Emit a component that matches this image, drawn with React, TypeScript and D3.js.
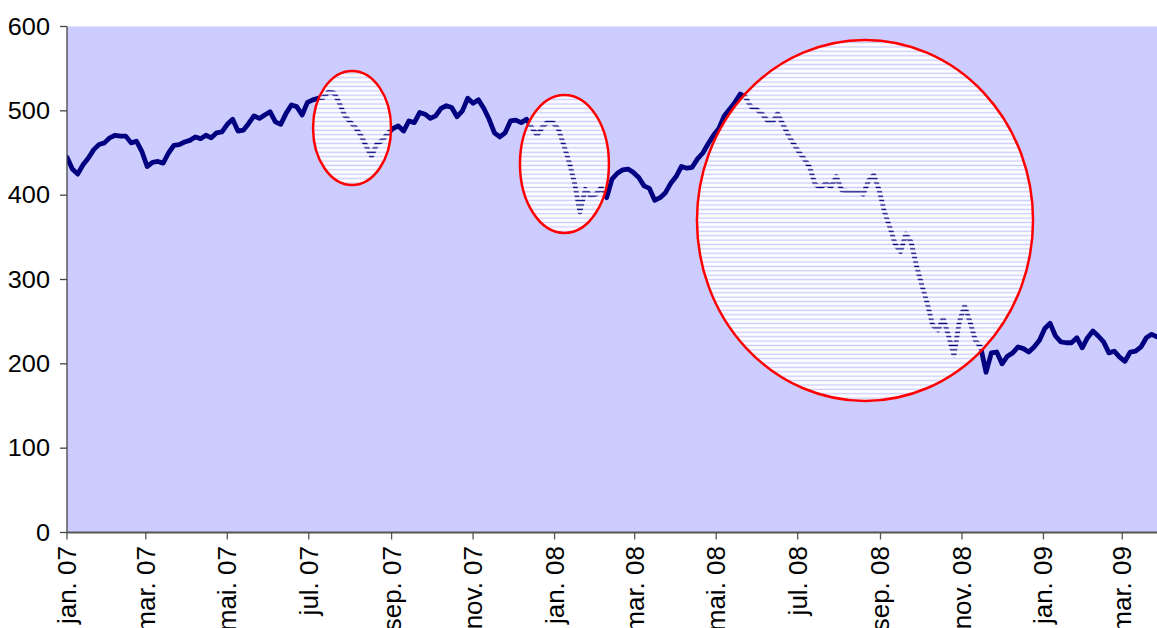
import React from 'react';
import * as d3 from 'd3';

const DAY = 86400000;
const startDate = Date.UTC(2007, 0, 1);
const totalDays = 816;
const stepDays = 4;

// Index values, one every 4 calendar days from 1 Jan 2007
const values: number[] = [
  445, 431, 425, 436, 444, 454, 460, 462, 468, 471,
  470, 470, 462, 464, 452, 434, 439, 440, 438, 450,
  459, 460, 463, 465, 469, 467, 471, 468, 474, 475,
  484, 490, 476, 477, 485, 494, 491, 495, 499, 487,
  484, 497, 507, 505, 495, 510, 513, 515, 516, 523,
  521, 509, 494, 487, 480, 471, 458, 446, 461, 465,
  473, 479, 482, 476, 488, 486, 498, 496, 491, 494,
  503, 506, 504, 493, 500, 515, 509, 513, 503, 490,
  474, 469, 474, 488, 489, 486, 490, 480, 471, 481,
  487, 486, 478, 459, 439, 414, 380, 407, 399, 401,
  409, 397, 419, 426, 430, 431, 427, 421, 411, 408,
  394, 397, 403, 414, 422, 434, 432, 433, 443, 450,
  461, 471, 479, 494, 502, 510, 520, 516, 505, 502,
  497, 489, 486, 497, 484, 471, 461, 451, 443, 433,
  413, 409, 414, 410, 422, 406, 405, 403, 405, 401,
  417, 424, 406, 380, 362, 342, 333, 354, 344, 316,
  293, 272, 246, 240, 254, 233, 210, 250, 269, 250,
  228, 220, 190, 213, 214, 200, 209, 213, 220, 218,
  214, 220, 228, 242, 248, 233, 226, 225, 225, 231,
  219, 231, 239, 233, 226, 213, 215, 208, 203, 214,
  215, 220, 231, 235, 232,
];

const yTicks: number[] = [0, 100, 200, 300, 400, 500, 600];
const monthNames: string[] = ['jan.', 'fév.', 'mar.', 'avr.', 'mai.', 'juin', 'jul.', 'aoû.', 'sep.', 'oct.', 'nov.', 'déc.'];

// Highlight ellipses (centre in days from start / index value, half sizes)
const ellipseCenterDay: number[] = [213.4, 372.4, 597.4];
const ellipseCenterValue: number[] = [479.7, 437, 370];
const ellipseHalfDays: number[] = [29.2, 33.3, 125.8];
const ellipseHalfValue: number[] = [67.6, 81.8, 214];

const W = 1157;
const H = 628;
const left = 67;
const right = 1157;
const top = 26.5;
const bottom = 532.5;

const FONT = '"Liberation Sans", Arial, sans-serif';

export default function App() {
  const x = d3
    .scaleUtc()
    .domain([new Date(startDate), new Date(startDate + totalDays * DAY)])
    .range([left, right]);
  const y = d3.scaleLinear().domain([0, 600]).range([bottom, top]);

  const pts = values.map((v, i) => ({ d: new Date(startDate + i * stepDays * DAY), v }));
  const line = d3
    .line<{ d: Date; v: number }>()
    .x((p) => x(p.d))
    .y((p) => y(p.v));

  const xTicks = d3.utcMonth.every(2)!.range(new Date(startDate), new Date(startDate + totalDays * DAY));
  const fmt = (d: Date) => `${monthNames[d.getUTCMonth()]} ${String(d.getUTCFullYear() % 100).padStart(2, '0')}`;

  const P = 4.39;

  return (
    <svg width={W} height={H} style={{ position: 'absolute', left: 0, top: 0, background: '#fff' }}>
      <defs>
        <clipPath id="plotClip">
          <rect x={left} y={top} width={right - left} height={bottom - top} />
        </clipPath>
        <pattern id="hatch" patternUnits="userSpaceOnUse" width={8} height={P}>
          <rect x={0} y={0} width={8} height={2.33} fill="#ffffff" />
          <rect x={0} y={3.73} width={8} height={P - 3.73} fill="#ffffff" />
        </pattern>
      </defs>
      <rect x={left} y={top} width={right - left} height={bottom - top} fill="#ccccff" />
      <g clipPath="url(#plotClip)">
        <path d={line(pts) || ''} fill="none" stroke="#000080" strokeWidth={4.8} strokeLinejoin="round" strokeLinecap="round" />
        {ellipseCenterDay.map((cd, i) => {
          const cx = x(new Date(startDate + cd * DAY));
          const rx = x(new Date(startDate + (cd + ellipseHalfDays[i]) * DAY)) - cx;
          const cy = y(ellipseCenterValue[i]);
          const ry = y(ellipseCenterValue[i] - ellipseHalfValue[i]) - cy;
          return (
            <ellipse key={i} cx={cx} cy={cy} rx={rx} ry={ry} fill="url(#hatch)" stroke="#ff0000" strokeWidth={2.5} />
          );
        })}
      </g>
      {/* y axis */}
      <line x1={left} x2={left} y1={top} y2={bottom} stroke="#444" strokeWidth={1.3} />
      {yTicks.map((t) => (
        <g key={t}>
          <line x1={left - 7} x2={left} y1={y(t)} y2={y(t)} stroke="#444" strokeWidth={1.3} />
          <text
            x={0}
            y={0}
            transform={`translate(50,${y(t)}) scale(1.1,1)`}
            textAnchor="end"
            dominantBaseline="central"
            fontFamily={FONT}
            fontSize={23}
            fill="#000"
          >
            {t}
          </text>
        </g>
      ))}
      {/* x axis */}
      <line x1={left} x2={right} y1={bottom} y2={bottom} stroke="#555" strokeWidth={1.8} />
      {xTicks.map((d, i) => (
        <g key={i}>
          <line x1={x(d)} x2={x(d)} y1={bottom} y2={bottom + 7} stroke="#555" strokeWidth={1.3} />
          <text
            transform={`translate(${x(d) + 9},${546}) rotate(-90)`}
            textAnchor="end"
            fontFamily={FONT}
            fontSize={26}
            fill="#000"
          >
            {fmt(d)}
          </text>
        </g>
      ))}
    </svg>
  );
}
